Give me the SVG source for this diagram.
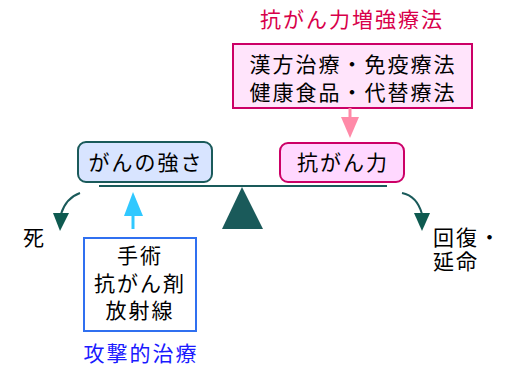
<svg xmlns="http://www.w3.org/2000/svg" width="524" height="379" viewBox="0 0 524 379">
<style>
text{font-family:"Noto Sans CJK JP","Noto Sans CJK SC",sans-serif;font-size:21px;letter-spacing:2px;fill:#000}
.mid{text-anchor:middle}
.red{fill:#d8004a}
.blue{fill:#1a1aff}
.teal{stroke:#1a5a5a;fill:none;stroke-width:2}
</style>
<defs>
<marker id="ah" viewBox="0 0 16 18" refX="8" refY="17" markerWidth="16" markerHeight="18" markerUnits="userSpaceOnUse" orient="auto-start-reverse">
<path d="M0,0 L16,0 L8,18 Z" fill="#0e5a50"/>
</marker>
</defs>
<g id="title"><text class="red mid" x="352" y="27">抗がん力増強療法</text></g>
<g id="boost">
<rect x="233" y="44" width="239" height="64" fill="#ffe4fb" stroke="#cc0066" stroke-width="2"/>
<text class="mid" x="353" y="72">漢方治療・免疫療法</text>
<text class="mid" x="353" y="100">健康食品・代替療法</text>
</g>
<g id="strength">
<rect x="78" y="142" width="134" height="40" rx="8" fill="#d8e4ff" stroke="#1a5a5a" stroke-width="2"/>
<text class="mid" x="146" y="170">がんの強さ</text>
</g>
<g id="power">
<rect x="280" y="143" width="124" height="39" rx="8" fill="#ffd8ff" stroke="#cc0066" stroke-width="2"/>
<text class="mid" x="343" y="170">抗がん力</text>
</g>
<g id="fulcrum">
<line x1="99" y1="186" x2="387" y2="186" stroke="#1a5a5a" stroke-width="2"/>
<polygon points="242,187 222,229 263,229" fill="#1a5a5a"/>
</g>
<g id="death"><text x="23" y="245">死</text></g>
<g id="recovery">
<text x="433" y="245">回復・</text>
<text x="433" y="269">延命</text>
</g>
<g id="attack">
<rect x="84" y="238" width="112" height="93" fill="#fff" stroke="#3070f0" stroke-width="2"/>
<text class="mid" x="140" y="263">手術</text>
<text class="mid" x="140" y="291">抗がん剤</text>
<text class="mid" x="140" y="318">放射線</text>
</g>
<g id="attackLabel"><text class="blue mid" x="141" y="361">攻撃的治療</text></g>
<g id="connectors">
<line x1="350" y1="108" x2="350" y2="122" stroke="#ff8aa8" stroke-width="3"/>
<polygon points="341,117 359,117 350,138" fill="#ff8aa8"/>
<line x1="133" y1="229" x2="133" y2="212" stroke="#30c8ff" stroke-width="3"/>
<polygon points="124,216 143,216 133,192" fill="#30c8ff"/>
<path d="M80,193 Q66,198 61,214" class="teal" stroke="#0e5a50"/>
<polygon points="53,213 69,213 60,231" fill="#0e5a50"/>
<path d="M402,193 Q417,196 422,214" class="teal" stroke="#0e5a50"/>
<polygon points="414,213 430,213 422,231" fill="#0e5a50"/>
</g>
</svg>
